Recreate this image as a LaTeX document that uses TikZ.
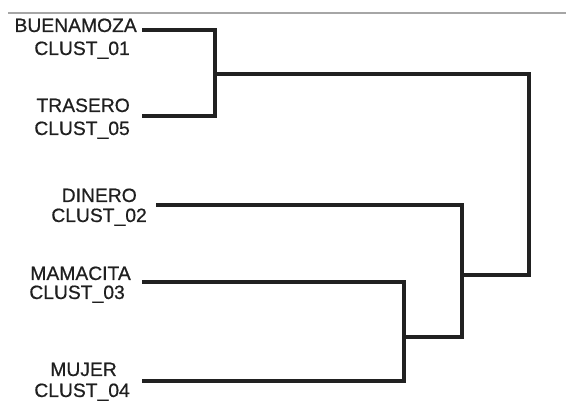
\documentclass[tikz,border=0pt]{standalone}
\usepackage{fontspec}
\setmainfont{Liberation Sans}
\newfontfamily\lblfont{Liberation Sans}[BoldFont={Liberation Sans},BoldFeatures={FakeBold=0.6}]
\begin{document}
\begin{tikzpicture}[x=1pt,y=-1pt,
  lbl/.style={anchor=base east, inner sep=0pt, font=\lblfont\bfseries\fontsize{19.3}{21}\selectfont, text=black!88},
  branch/.style={line width=3.8pt, draw=black!87, line join=miter, line cap=butt},
  rule/.style={draw=black!35, line width=1.5pt}]
\useasboundingbox (0,0) rectangle (566,403);
\coordinate (r0) at (8,13);
\coordinate (r1) at (566,13);
\draw[rule] (r0) -- (r1);
% labels
\node[lbl] (n1) at (137,32) {BUENAMOZA};
\node[lbl] (c1) at (130,55) {CLUST\_01};
\node[lbl] (n5) at (130,112) {TRASERO};
\node[lbl] (c5) at (130,135) {CLUST\_05};
\node[lbl] (n2) at (137,202) {DINERO};
\node[lbl] (c2) at (147,222) {CLUST\_02};
\node[lbl] (n3) at (131,280) {MAMACITA};
\node[lbl] (c3) at (125,299) {CLUST\_03};
\node[lbl] (n4) at (117,376) {MUJER};
\node[lbl] (c4) at (130,397) {CLUST\_04};
% leaves
\coordinate (l1) at (142,30);
\coordinate (l5) at (142,116);
\coordinate (l2) at (156,205);
\coordinate (l3) at (142,282);
\coordinate (l4) at (142,381);
% merges
\coordinate (m1) at (215,74);
\coordinate (m3) at (404,337);
\coordinate (m2) at (462,275);
\coordinate (root) at (529,175);
\draw[branch] (l1) -| (m1) |- (l5);
\draw[branch] (l3) -| (m3) |- (l4);
\draw[branch] (l2) -| (m2) |- (m3);
\draw[branch] (m1) -| (root) |- (m2);
\end{tikzpicture}
\end{document}
